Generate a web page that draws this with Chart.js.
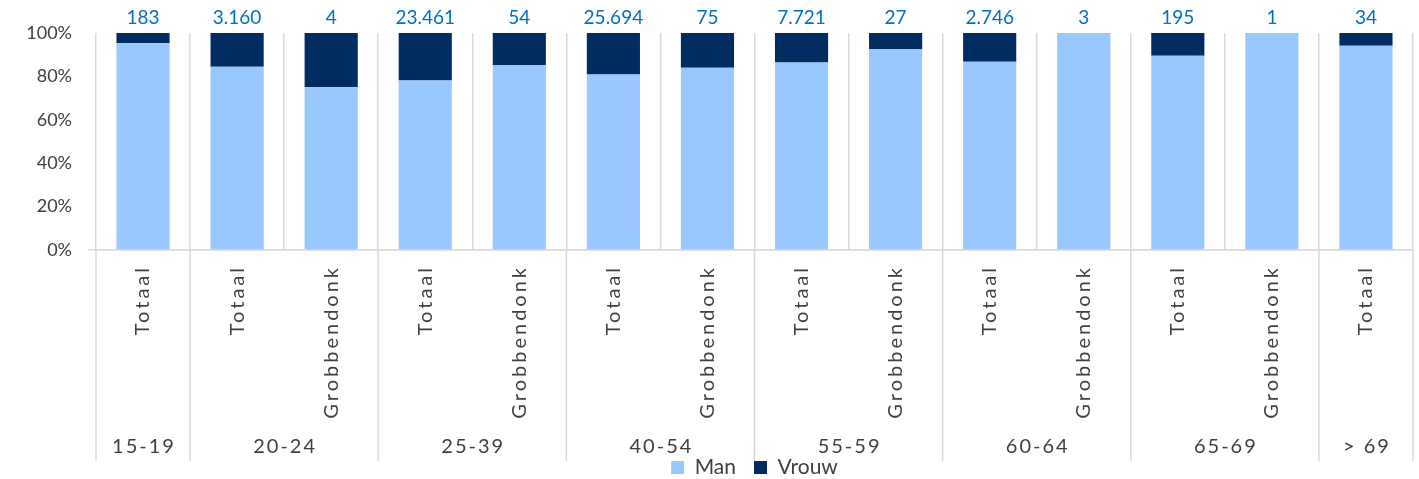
<!DOCTYPE html>
<html>
<head>
<meta charset="utf-8">
<script src="https://cdn.jsdelivr.net/npm/chart.js@4/dist/chart.umd.min.js"></script>
<style>
  html, body { margin: 0; padding: 0; background: #fff; }
  #wrap { width: 1419px; height: 479px; }
</style>
</head>
<body>
<div id="wrap"><canvas id="leeftijdChart"></canvas></div>
<script>
    // categorieen
    var labels = ['Totaal', 'Totaal', 'Grobbendonk', 'Totaal', 'Grobbendonk', 'Totaal', 'Grobbendonk',
                  'Totaal', 'Grobbendonk', 'Totaal', 'Grobbendonk', 'Totaal', 'Grobbendonk', 'Totaal'];
    var groepen = ['15-19', '20-24', '25-39', '40-54', '55-59', '60-64', '65-69', '> 69'];
    var groepGrootte = [1, 2, 2, 2, 2, 2, 2, 1];
    // aandeel in %
    var man   = [95.4, 84.4, 75.0, 78.1, 85.2, 80.9, 84.0, 86.4, 92.6, 86.7, 100, 89.5, 100, 94.1];
    var vrouw = [4.6, 15.6, 25.0, 21.9, 14.8, 19.1, 16.0, 13.6, 7.4, 13.3, 0, 10.5, 0, 5.9];
    // aantallen boven de staven
    var totalen = [183, 3160, 4, 23461, 54, 25694, 75, 7721, 27, 2746, 3, 195, 1, 34];

    var grijs = '#d9d9d9';
    var tekst = '#404040';
    var font = 'Lato, "Noto Sans", sans-serif';

    // eigen labels (met letterafstand), totalen en groepen
    var labelPlugin = {
        id: 'labelPlugin',
        afterDraw: function (chart) {
            var ctx = chart.ctx;
            var x = chart.scales.x;
            var y = chart.scales.y;
            var half = (x.getPixelForValue(1) - x.getPixelForValue(0)) / 2;

            ctx.save();
            // totalen
            ctx.fillStyle = '#0070C0';
            ctx.font = '19px ' + font;
            ctx.textAlign = 'center';
            ctx.textBaseline = 'bottom';
            totalen.forEach(function (t, i) {
                ctx.fillText(t.toLocaleString('nl-NL'), x.getPixelForValue(i), y.getPixelForValue(100) - 6);
            });

            // categorie labels, verticaal
            ctx.fillStyle = tekst;
            ctx.font = '20px ' + font;
            ctx.letterSpacing = '3px';
            labels.forEach(function (l, i) {
                ctx.save();
                ctx.translate(x.getPixelForValue(i), x.top + 18);
                ctx.rotate(-Math.PI / 2);
                ctx.textAlign = 'right';
                ctx.textBaseline = 'middle';
                ctx.fillText(l, 3, 0);
                ctx.restore();
            });

            // groepen
            ctx.letterSpacing = '2px';
            ctx.textAlign = 'center';
            ctx.textBaseline = 'middle';
            ctx.strokeStyle = grijs;
            ctx.lineWidth = 1.5;
            var start = 0;
            groepen.forEach(function (g, k) {
                var end = start + groepGrootte[k] - 1;
                var left = x.getPixelForValue(start) - half;
                var right = x.getPixelForValue(end) + half;
                ctx.fillText(g, (left + right) / 2 + 1, 447);
                ctx.beginPath();
                ctx.moveTo(left, x.top);
                ctx.lineTo(left, 461);
                ctx.stroke();
                if (k === groepen.length - 1) {
                    ctx.beginPath();
                    ctx.moveTo(right, x.top);
                    ctx.lineTo(right, 461);
                    ctx.stroke();
                }
                start = end + 1;
            });
            ctx.restore();
        }
    };

    var ctx = document.getElementById('leeftijdChart').getContext('2d');
    var myChart = new Chart(ctx, {
        type: 'bar',
        data: {
            labels: labels,
            datasets: [{
                label: 'Man',
                data: man,
                backgroundColor: '#99C8FF',
            }, {
                label: 'Vrouw',
                data: vrouw,
                backgroundColor: '#002C62',
            }],
        },
        options: {
            responsive: true,
            maintainAspectRatio: false,
            animation: false,
            categoryPercentage: 1,
            barPercentage: 0.565,
            layout: { padding: { top: 33, right: 6, left: 0, bottom: -9 } },
            plugins: {
                tooltip: { enabled: false },
                legend: {
                    position: 'bottom',
                    fullSize: false,
                    labels: {
                        color: tekst,
                        font: { family: font, size: 21 },
                        boxWidth: 13,
                        boxHeight: 13,
                        padding: 18,
                    },
                },
            },
            scales: {
                x: {
                    stacked: true,
                    grid: { color: grijs, lineWidth: 1.5, drawTicks: false, offset: true },
                    border: { color: grijs, width: 1.5 },
                    ticks: { display: false },
                    afterFit: function (scale) { scale.height = 189; },
                },
                y: {
                    stacked: true,
                    min: 0,
                    max: 100,
                    grid: {
                        color: function (c) { return c.tick && c.tick.value === 0 ? grijs : 'rgba(0,0,0,0)'; },
                        lineWidth: 1.5,
                        tickLength: 8,
                    },
                    border: { display: false },
                    ticks: {
                        stepSize: 20,
                        color: tekst,
                        padding: 16,
                        font: { family: font, size: 18 },
                        callback: function (v) { return v + '%'; },
                    },
                    afterFit: function (scale) { scale.width = 96; },
                },
            },
        },
        plugins: [labelPlugin],
    });
</script>
</body>
</html>
